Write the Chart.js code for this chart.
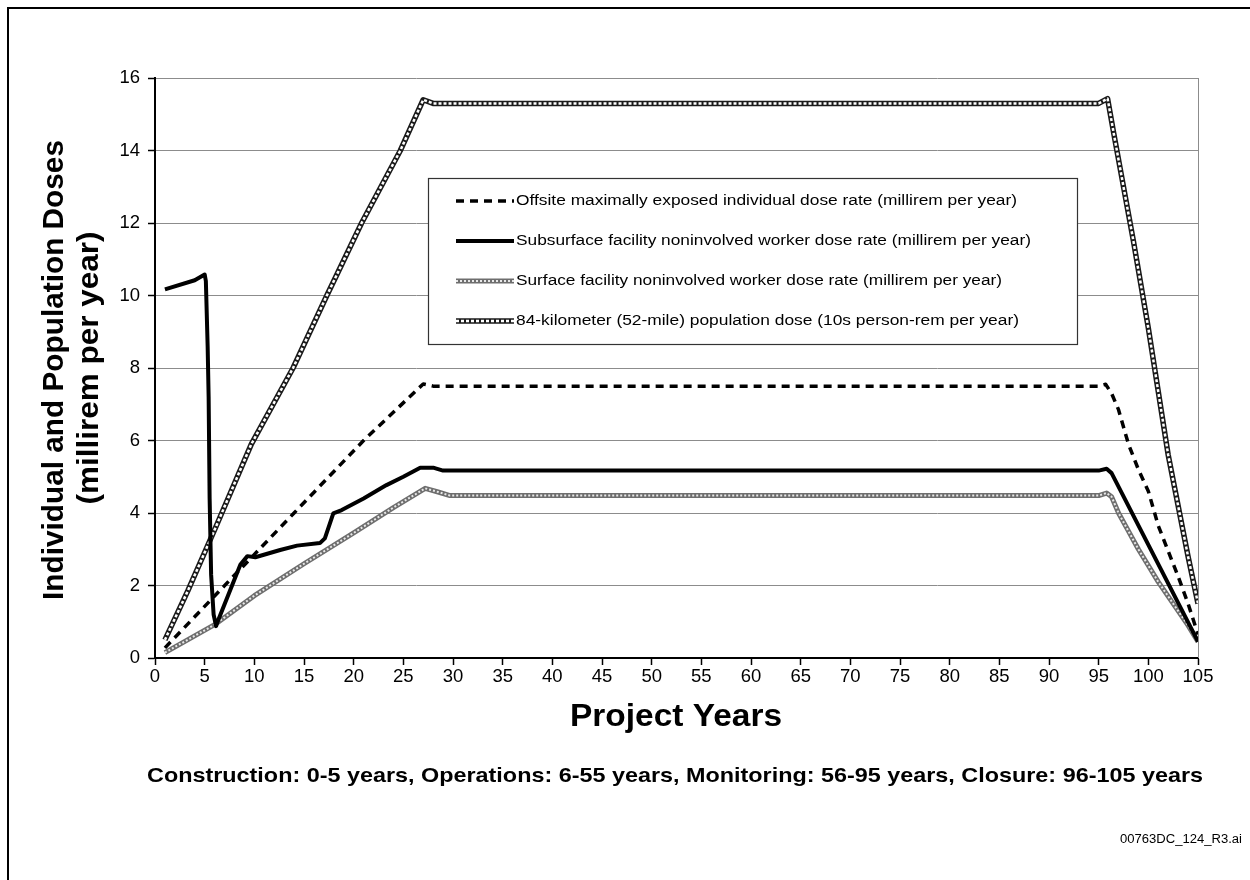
<!DOCTYPE html>
<html>
<head>
<meta charset="utf-8">
<script src="https://cdn.jsdelivr.net/npm/chart.js@4"></script>
<style>
  html, body { margin: 0; padding: 0; background: #fff; }
  #wrap { width: 1250px; height: 880px; }
</style>
</head>
<body>
<div id="wrap"><canvas id="doseChart" width="1250" height="880"></canvas></div>
<script>
    // readings taken off the figure (project year -> dose)
    const offsiteYears = [1, 14, 21, 27, 28, 95, 95.7, 96.3, 97, 98, 99, 100, 101, 102, 103, 104, 105];
    const offsiteDose  = [0.28, 4.0, 6.0, 7.56, 7.5, 7.5, 7.55, 7.3, 6.85, 5.9, 5.2, 4.6, 3.65, 2.95, 2.25, 1.5, 0.65];

    const subsurfaceYears = [1, 4, 5, 5.12, 5.3, 5.4, 5.5, 5.65, 5.9, 6.15, 6.3, 8.6, 9.3, 10.1, 12.6, 14.3, 16.6, 17.1, 17.95, 18.8, 21, 23.3, 25, 26.7, 28, 29, 95, 95.8, 96.3, 105];
    const subsurfaceDose  = [10.17, 10.42, 10.58, 10.4, 8.6, 7.2, 4.4, 2.3, 1.2, 0.88, 1.0, 2.58, 2.81, 2.78, 2.98, 3.1, 3.17, 3.3, 3.99, 4.08, 4.4, 4.77, 5.0, 5.25, 5.25, 5.17, 5.17, 5.22, 5.1, 0.45];

    const surfaceYears = [1, 6, 10, 15, 20, 24, 27.2, 28.5, 29.7, 95, 95.8, 96.3, 97, 98, 99, 100, 101, 102, 103, 104, 105];
    const surfaceDose  = [0.15, 0.92, 1.72, 2.6, 3.45, 4.15, 4.68, 4.58, 4.48, 4.48, 4.55, 4.45, 4.0, 3.5, 3.0, 2.55, 2.1, 1.7, 1.3, 0.9, 0.45];

    const populationYears = [1, 3.3, 6.1, 9.7, 13.9, 17.3, 20.8, 24.7, 27, 28, 95, 95.9, 96.5, 98.5, 100, 102, 104, 105];
    const populationDose  = [0.5, 1.85, 3.6, 5.9, 8.0, 10.0, 12.0, 14.0, 15.4, 15.3, 15.3, 15.43, 14.5, 11.5, 9.1, 5.6, 2.8, 1.5];

    const seriesNames = [
        'Offsite maximally exposed individual dose rate (millirem per year)',
        'Subsurface facility noninvolved worker dose rate (millirem per year)',
        'Surface facility noninvolved worker dose rate (millirem per year)',
        '84-kilometer (52-mile) population dose (10s person-rem per year)'
    ];

    const xTitle = 'Project Years';
    const yTitleLines = ['Individual and Population Doses', '(millirem per year)'];
    const phaseNote = 'Construction: 0-5 years, Operations: 6-55 years, Monitoring: 56-95 years, Closure: 96-105 years';
    const fileTag = '00763DC_124_R3.ai';

    function pts(xs, ys) {
        return xs.map((x, i) => ({ x: x, y: ys[i] }));
    }

    const FONT = "'Liberation Sans', Arial, sans-serif";

    // line looks: base stroke plus optional overlay (for the textured lines)
    const styles = [
        { base: { color: '#000', width: 3.5, dash: [8, 6] } },
        { base: { color: '#000', width: 4, dash: [] } },
        { base: { color: '#6e6e6e', width: 5, dash: [] }, over: { color: '#e8e8e8', width: 2, dash: [2, 2] } },
        { base: { color: '#1a1a1a', width: 5.5, dash: [] }, over: { color: '#fff', width: 2.5, dash: [3, 2] } }
    ];

    function lineSet(label, data, s, order) {
        return {
            label: label,
            data: data,
            borderColor: s.color,
            borderWidth: s.width,
            borderDash: s.dash,
            pointRadius: 0,
            tension: 0,
            fill: false,
            borderJoinStyle: 'round',
            order: order
        };
    }

    function fitText(ctx, text, cx, cy, font, targetW, rotate) {
        ctx.save();
        ctx.font = font;
        const w = ctx.measureText(text).width;
        ctx.translate(cx, cy);
        if (rotate) ctx.rotate(-Math.PI / 2);
        ctx.scale(targetW / w, 1);
        ctx.textAlign = 'center';
        ctx.textBaseline = 'middle';
        ctx.fillStyle = '#000';
        ctx.fillText(text, 0, 0);
        ctx.restore();
    }

    const decorations = {
        id: 'decorations',
        beforeDraw(chart) {
            const ctx = chart.ctx;
            ctx.save();
            ctx.fillStyle = '#fff';
            ctx.fillRect(0, 0, chart.width, chart.height);
            ctx.restore();
        },
        afterDraw(chart) {
            const ctx = chart.ctx;
            const a = chart.chartArea;

            // right edge of the plot area
            ctx.save();
            ctx.strokeStyle = '#8c8c8c';
            ctx.lineWidth = 1;
            ctx.beginPath();
            ctx.moveTo(a.right + 0.5, a.top);
            ctx.lineTo(a.right + 0.5, a.bottom);
            ctx.stroke();

            // outer frame (left and top only are in view)
            ctx.strokeStyle = '#000';
            ctx.lineWidth = 2;
            ctx.beginPath();
            ctx.moveTo(8, 880);
            ctx.lineTo(8, 8);
            ctx.lineTo(1250, 8);
            ctx.stroke();
            ctx.restore();

            // legend box
            const box = { x: 428.5, y: 178.5, w: 649, h: 166 };
            ctx.save();
            ctx.fillStyle = '#fff';
            ctx.fillRect(box.x, box.y, box.w, box.h);
            ctx.strokeStyle = '#333';
            ctx.lineWidth = 1.2;
            ctx.strokeRect(box.x, box.y, box.w, box.h);
            const rowY = [201, 241, 281, 321];
            const textW = [501, 515, 486, 503];
            seriesNames.forEach((name, i) => {
                const st = styles[i];
                [st.base, st.over].forEach(s => {
                    if (!s) return;
                    ctx.strokeStyle = s.color;
                    ctx.lineWidth = s.width;
                    ctx.setLineDash(s.dash);
                    ctx.beginPath();
                    ctx.moveTo(456, rowY[i]);
                    ctx.lineTo(514, rowY[i]);
                    ctx.stroke();
                });
                ctx.setLineDash([]);
                fitText(ctx, name, 516 + textW[i] / 2, rowY[i], '15.5px ' + FONT, textW[i], false);
            });
            ctx.restore();

            // titles and notes
            fitText(ctx, xTitle, 676, 717, 'bold 31px ' + FONT, 212, false);
            fitText(ctx, phaseNote, 675, 776, 'bold 21px ' + FONT, 1056, false);
            fitText(ctx, yTitleLines[0], 55, 370, 'bold 29px ' + FONT, 460, true);
            fitText(ctx, yTitleLines[1], 90, 368, 'bold 29px ' + FONT, 273, true);
            fitText(ctx, fileTag, 1181, 840, '12px ' + FONT, 122, false);
        }
    };

    const datasets = [];
    const allPts = [
        pts(offsiteYears, offsiteDose),
        pts(subsurfaceYears, subsurfaceDose),
        pts(surfaceYears, surfaceDose),
        pts(populationYears, populationDose)
    ];
    const orders = [[2], [1], [6, 5], [4, 3]];
    allPts.forEach((data, i) => {
        datasets.push(lineSet(seriesNames[i], data, styles[i].base, orders[i][0]));
        if (styles[i].over) {
            datasets.push(lineSet(seriesNames[i] + ' (texture)', data, styles[i].over, orders[i][1]));
        }
    });

    const ctxDose = document.getElementById('doseChart').getContext('2d');

    new Chart(ctxDose, {
        type: 'line',
        data: { datasets: datasets },
        options: {
            responsive: false,
            animation: false,
            devicePixelRatio: 1,
            layout: { padding: { left: 0, right: 52, top: 78, bottom: 0 } },
            plugins: {
                legend: { display: false },
                tooltip: { enabled: false }
            },
            scales: {
                x: {
                    type: 'linear',
                    min: 0,
                    max: 105,
                    afterFit: function(scale) { scale.height = 222; },
                    grid: { drawOnChartArea: false, drawTicks: true, tickLength: 7, tickColor: '#000', tickWidth: 1.5 },
                    border: { color: '#000', width: 2 },
                    ticks: { stepSize: 5, color: '#000', padding: 1, maxRotation: 0, font: { family: FONT, size: 18.5 } }
                },
                y: {
                    min: 0,
                    max: 16,
                    afterFit: function(scale) { scale.width = 155; },
                    grid: { color: '#8c8c8c', lineWidth: 1, tickLength: 7, tickColor: '#000', tickWidth: 1.5 },
                    border: { color: '#000', width: 2 },
                    ticks: { stepSize: 2, color: '#000', padding: 8, font: { family: FONT, size: 18.5 } }
                }
            }
        },
        plugins: [decorations]
    });
</script>
</body>
</html>
